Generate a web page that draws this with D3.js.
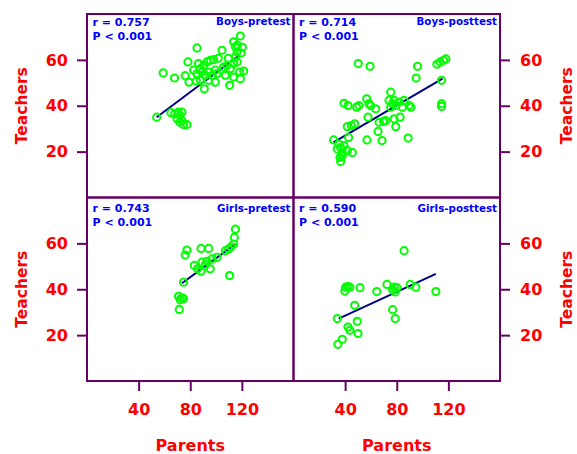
<!DOCTYPE html>
<html>
<head>
    <meta charset="utf-8">
    <title>Teachers vs Parents</title>
    <script src="https://d3js.org/d3.v7.min.js"></script>
    <style>
        body {
            margin: 0;
            background-color: #ffffff;
        }

        text {
            font-family: "DejaVu Sans", sans-serif;
            font-weight: bold;
        }

        .tick text {
            fill: #ff0000;
            font-size: 16px;
        }

        .tick line {
            stroke: #660066;
            stroke-width: 2;
        }

        .axis-title {
            fill: #ff0000;
        }

        .stat {
            fill: #0000ff;
            font-size: 11px;
        }

        .name {
            fill: #0000ff;
            font-size: 10.3px;
        }
    </style>
</head>

<body>
    <svg></svg>

    <script type="text/javascript">
        // [parents, teachers]
        const boysPre = [
            [54, 35], [65, 37], [68, 36.5], [70.7, 37.2], [73.6, 37.2], [72, 35.7], [69.7, 34.3], [72, 32.8],
            [74.8, 31.8], [77.4, 31.8], [73.6, 33.5], [59, 54.3], [67.8, 52.1], [85.2, 65.2], [78.2, 59.1],
            [76.1, 53.1], [79, 50.3], [84.7, 50.8], [86.4, 58.4], [87.8, 56.2], [90.3, 57.6], [93, 59.1],
            [95.5, 59.8], [98.1, 60.1], [82.6, 55.5], [85.2, 54], [89.1, 54.7], [91.7, 53.3], [94.2, 54.7],
            [96.9, 53.3], [99.4, 55.5], [100.7, 54], [90.9, 47.4], [87.8, 51.1], [94.2, 51.1], [99.4, 50.3],
            [104.6, 64.2], [105.9, 56.9], [108.5, 57.6], [111.1, 56.2], [113.6, 58.4], [107.2, 53.3],
            [110.5, 48.9], [113.6, 52.5], [118.8, 51.8], [118.3, 54.7], [121.4, 55.1], [118.8, 70.4],
            [113.6, 67.9], [115, 65.7], [116.3, 63.5], [119.4, 63], [115, 61.3], [116.3, 59.1],
            [101.7, 60.7], [109.5, 60.7], [116.5, 66.4], [120.4, 65.5]
        ]
        const boysPost = [
            [50.2, 58.4], [59.3, 57.2], [96.1, 57.2], [95, 52.1], [111.1, 58.1], [113.6, 59.1], [116.3, 59.8],
            [118.1, 60.4], [114.7, 51.1], [114.7, 40.9], [114.7, 39.7], [39.1, 41.1], [42.2, 40.1], [48.9, 39.4],
            [50.7, 40.1], [56.7, 43], [59.8, 40], [63.7, 38.7], [58.5, 40.9], [75.3, 45.9], [74, 42.3],
            [76.7, 40.9], [77.9, 42.3], [79.2, 40.1], [75.3, 39.4], [81.8, 41.6], [85.7, 42.3], [89.6, 40.1],
            [90.9, 39.4], [84.4, 39.4], [57.7, 35], [69.7, 33.2], [71.5, 33.5], [66.3, 32.8], [77.9, 34.3],
            [82.6, 35], [79.2, 30.9], [41.7, 30.9], [44.8, 31.3], [47.4, 32.1], [65.5, 28.8], [31.1, 25.1],
            [42.7, 26.2], [56.9, 25.1], [68.6, 24.8], [88.8, 25.9], [35.2, 23.3], [33.9, 21.1], [36.5, 21.8],
            [39.1, 22.6], [37.8, 19.6], [41.7, 20.4], [45.6, 19.6], [36, 17.4], [37.8, 18.2], [36.5, 15.7]
        ]
        const girlsPre = [
            [115, 66.2], [114.2, 62.6], [113.6, 59.7], [111.6, 58.5], [109.7, 57.5], [107.2, 56.8], [77.4, 57.1],
            [76.1, 54.9], [88.3, 57.8], [94.2, 57.8], [100.7, 53.9], [96.9, 53.2], [93, 52.2], [89.1, 51.8],
            [83.1, 50.4], [85.7, 48.9], [88.3, 47.9], [91.7, 50.7], [95.5, 48.9], [110.5, 46], [74.8, 43.1],
            [70.9, 36.9], [73.6, 36.3], [72.2, 35.4], [74.8, 35.9], [71.5, 31.2]
        ]
        const girlsPost = [
            [85.7, 56.8], [40.4, 40.9], [42.2, 41.2], [43.7, 40.9], [39.8, 39.2], [51.5, 40.7], [64.5, 39],
            [72.4, 42.1], [78.1, 40.9], [80.2, 40.7], [78.6, 38.8], [76.8, 39.8], [90.4, 42.1], [94.8, 40.9],
            [110.3, 39], [47.4, 33], [33.9, 27.2], [76.8, 31.1], [78.8, 27.2], [49.4, 26], [42.2, 23.5],
            [43.7, 22.1], [50, 20.7], [37.8, 18.2], [34.4, 16]
        ]

        // fitted line end points
        const boysPreFit = [[54, 35], [118, 62]]
        const boysPostFit = [[31, 24], [115.5, 51.8]]
        const girlsPreFit = [[73.6, 42.6], [115, 59.7]]
        const girlsPostFit = [[35, 27.2], [110.3, 46.7]]

        const panelNames = ['Boys-pretest', 'Boys-posttest', 'Girls-pretest', 'Girls-posttest']
        const rValues = ['0.757', '0.714', '0.743', '0.590']
        const pValues = ['0.001', '0.001', '0.001', '0.001']
        const xTicks = [40, 80, 120]
        const yTicks = [20, 40, 60]

        const panels = [
            { name: panelNames[0], r: rValues[0], p: pValues[0], pts: boysPre, fit: boysPreFit, col: 0, row: 0 },
            { name: panelNames[1], r: rValues[1], p: pValues[1], pts: boysPost, fit: boysPostFit, col: 1, row: 0 },
            { name: panelNames[2], r: rValues[2], p: pValues[2], pts: girlsPre, fit: girlsPreFit, col: 0, row: 1 },
            { name: panelNames[3], r: rValues[3], p: pValues[3], pts: girlsPost, fit: girlsPostFit, col: 1, row: 1 }
        ]

        const gridLeft = 87, gridTop = 14, pw = 206.5, ph = 183.5
        const purple = '#660066'

        let svg = d3.select('svg').attr('width', 577).attr('height', 454)

        panels.forEach(p => {
            let x0 = gridLeft + p.col * pw
            let y0 = gridTop + p.row * ph
            let x = d3.scaleLinear().domain([0, 160]).range([x0, x0 + pw])
            let y = d3.scaleLinear().domain([0, 80]).range([y0 + ph, y0])

            let g = svg.append('g')

            g.append('line')
                .attr('x1', x(p.fit[0][0])).attr('y1', y(p.fit[0][1]))
                .attr('x2', x(p.fit[1][0])).attr('y2', y(p.fit[1][1]))
                .attr('stroke', '#000080')
                .attr('stroke-width', 2)

            g.selectAll('circle').data(p.pts).enter().append('circle')
                .attr('cx', d => x(d[0]))
                .attr('cy', d => y(d[1]))
                .attr('r', 3.6)
                .attr('fill', 'none')
                .attr('stroke', '#00ff00')
                .attr('stroke-width', 2)

            let off = p.row == 0 ? 0 : 3
            g.append('text').attr('class', 'stat')
                .attr('x', x0 + 5.5).attr('y', y0 + 11.5 + off)
                .text('r = ' + p.r)
            g.append('text').attr('class', 'stat')
                .attr('x', x0 + 5.5).attr('y', y0 + 25.5 + off)
                .text('P < ' + p.p)
            g.append('text').attr('class', 'name')
                .attr('x', x0 + pw - 3).attr('y', y0 + 11 + off)
                .attr('text-anchor', 'end')
                .text(p.name)

            // axes on the outside only
            if (p.row == 1) {
                let ax = g.append('g')
                    .attr('transform', `translate(0,${y0 + ph})`)
                    .call(d3.axisBottom(x).tickValues(xTicks).tickSize(10).tickPadding(13))
                ax.select('.domain').remove()

                g.append('text').attr('class', 'axis-title')
                    .attr('x', x0 + pw / 2).attr('y', 451)
                    .attr('text-anchor', 'middle')
                    .style('font-size', '16px')
                    .text('Parents')
            }
            if (p.col == 0) {
                let ay = g.append('g')
                    .attr('transform', `translate(${x0},0)`)
                    .call(d3.axisLeft(y).tickValues(yTicks).tickSize(10).tickPadding(9))
                ay.select('.domain').remove()

                g.append('text').attr('class', 'axis-title')
                    .attr('transform', `translate(27,${y0 + ph / 2}) rotate(-90)`)
                    .attr('text-anchor', 'middle')
                    .style('font-size', '15.5px')
                    .text('Teachers')
            } else {
                let ay = g.append('g')
                    .attr('transform', `translate(${x0 + pw},0)`)
                    .call(d3.axisRight(y).tickValues(yTicks).tickSize(10).tickPadding(10))
                ay.select('.domain').remove()

                g.append('text').attr('class', 'axis-title')
                    .attr('transform', `translate(572,${y0 + ph / 2}) rotate(-90)`)
                    .attr('text-anchor', 'middle')
                    .style('font-size', '15.5px')
                    .text('Teachers')
            }

            g.append('rect')
                .attr('x', x0).attr('y', y0)
                .attr('width', pw).attr('height', ph)
                .attr('fill', 'none')
                .attr('stroke', purple)
                .attr('stroke-width', 2)
        })

        svg.selectAll('.tick text').attr('font-family', null).attr('font-size', null)
    </script>
</body>
</html>
